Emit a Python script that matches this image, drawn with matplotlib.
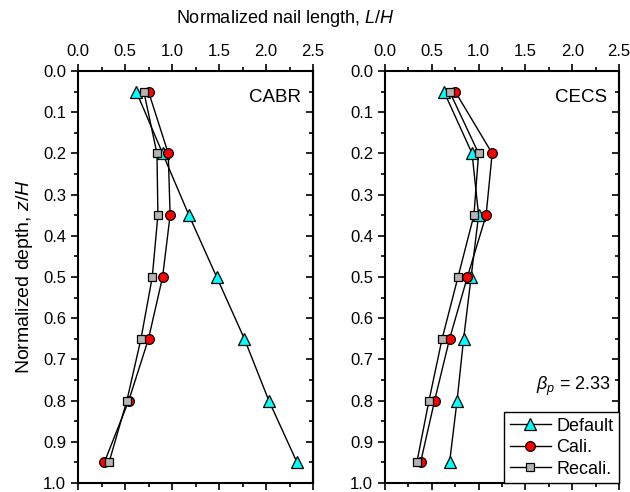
import numpy as np
import matplotlib
matplotlib.use("Agg")
import matplotlib.pyplot as plt
from matplotlib.ticker import MultipleLocator, FormatStrFormatter

plt.rcParams['font.family'] = ['Liberation Sans', 'DejaVu Sans']
plt.rcParams['mathtext.fontset'] = 'custom'
plt.rcParams['mathtext.rm'] = 'Liberation Sans'
plt.rcParams['mathtext.it'] = 'Liberation Sans:italic'

# normalized depth z/H
depth = [0.05, 0.2, 0.35, 0.5, 0.65, 0.8, 0.95]

# CABR
cabr_default = [0.62, 0.90, 1.18, 1.475, 1.77, 2.03, 2.33]
cabr_cali = [0.75, 0.96, 0.98, 0.90, 0.75, 0.54, 0.28]
cabr_recali = [0.70, 0.84, 0.85, 0.79, 0.67, 0.52, 0.33]

# CECS
cecs_default = [0.63, 0.93, 1.00, 0.92, 0.84, 0.77, 0.69]
cecs_cali = [0.75, 1.145, 1.08, 0.88, 0.69, 0.53, 0.38]
cecs_recali = [0.69, 1.00, 0.95, 0.78, 0.61, 0.47, 0.34]

fig = plt.figure(figsize=(6.3, 4.92), dpi=100)
ax1 = fig.add_axes([78/630, 9/492, 235/630, 412/492])
ax2 = fig.add_axes([385/630, 9/492, 234/630, 412/492])


def draw(ax, d, c, r, name):
    ax.plot(d, depth, '-^', color='black', lw=1, mfc='#00FFFF', mec='black',
            mew=0.9, ms=8, label='Default')
    ax.plot(c, depth, '-o', color='black', lw=1, mfc='#FF0000', mec='black',
            mew=0.9, ms=7, label='Cali.')
    ax.plot(r, depth, '-s', color='black', lw=1, mfc='#B4B4B4', mec='black',
            mew=0.9, ms=6.3, label='Recali.')
    ax.set_xlim(0, 2.5)
    ax.set_ylim(1.0, 0.0)
    ax.xaxis.set_major_locator(MultipleLocator(0.5))
    ax.xaxis.set_minor_locator(MultipleLocator(0.25))
    ax.yaxis.set_major_locator(MultipleLocator(0.1))
    ax.yaxis.set_minor_locator(MultipleLocator(0.05))
    ax.xaxis.set_major_formatter(FormatStrFormatter('%.1f'))
    ax.yaxis.set_major_formatter(FormatStrFormatter('%.1f'))
    ax.tick_params(which='both', top=True, bottom=True, left=True, right=False,
                   labeltop=True, labelbottom=False, direction='out',
                   width=1.2, labelsize=12)
    ax.tick_params(which='major', length=5)
    ax.tick_params(which='minor', length=3)
    for s in ax.spines.values():
        s.set_linewidth(1.5)
    # inward ticks on the right spine
    sec = ax.secondary_yaxis('right')
    sec.yaxis.set_major_locator(MultipleLocator(0.1))
    sec.yaxis.set_minor_locator(MultipleLocator(0.05))
    sec.tick_params(which='both', direction='in', labelright=False, width=1.2)
    sec.tick_params(which='major', length=5)
    sec.tick_params(which='minor', length=3)
    sec.spines['right'].set_linewidth(1.5)
    ax.text(0.95, 0.935, name, transform=ax.transAxes, ha='right', va='center',
            fontsize=13.5)


draw(ax1, cabr_default, cabr_cali, cabr_recali, 'CABR')
draw(ax2, cecs_default, cecs_cali, cecs_recali, 'CECS')

ax1.set_ylabel('Normalized depth, $\\mathit{z/H}$', fontsize=14, labelpad=6)
ax2.text(0.965, 0.235, '$\\beta_p$ = 2.33', transform=ax2.transAxes,
         ha='right', va='center', fontsize=13)
leg = ax2.legend(loc='lower right', borderaxespad=0, fontsize=13,
                 fancybox=False, framealpha=1, edgecolor='black',
                 handlelength=2.3, borderpad=0.3, labelspacing=0.25,
                 handletextpad=0.3)
leg.get_frame().set_linewidth(1.0)

fig.text(285/630, 0.962, 'Normalized nail length, $\\mathit{L/H}$', ha='center',
         va='center', fontsize=13)

fig.savefig('out.png', dpi=100)
